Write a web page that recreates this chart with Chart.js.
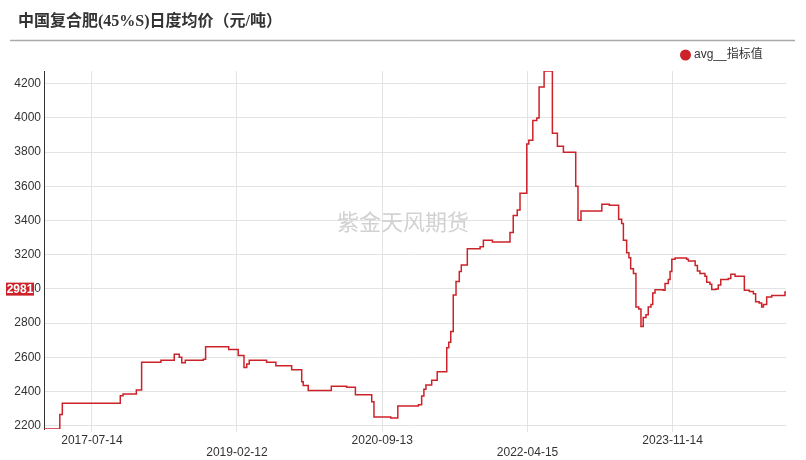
<!DOCTYPE html>
<html><head><meta charset="utf-8">
<script src="https://cdn.jsdelivr.net/npm/chart.js@4/dist/chart.umd.min.js"></script>
<style>html,body{margin:0;padding:0;background:#fff;}#wrap{position:relative;width:806px;height:460px;}</style>
</head><body><div id="wrap"><canvas id="c" width="806" height="460"></canvas></div>
<script>
const chartTitle = '中国复合肥(45%S)日度均价（元/吨）';
const seriesName = 'avg__指标值';
const watermarkText = '紫金天风期货';
const dates = ['2017-01-04','2017-03-08','2017-03-18','2017-11-04','2017-11-15','2018-01-07','2018-01-28','2018-04-15','2018-06-07','2018-06-27','2018-07-07','2018-07-21','2018-10-01','2018-10-10','2019-01-10','2019-02-17','2019-03-12','2019-03-23','2019-04-02','2019-06-10','2019-07-17','2019-09-18','2019-10-28','2019-11-03','2019-11-23','2020-02-23','2020-04-24','2020-05-29','2020-08-02','2020-08-11','2020-10-17','2020-11-14','2021-02-04','2021-02-17','2021-02-26','2021-03-06','2021-03-29','2021-04-20','2021-05-28','2021-06-05','2021-06-13','2021-06-23','2021-07-04','2021-07-17','2021-07-25','2021-08-18','2021-10-08','2021-10-21','2021-11-26','2022-02-04','2022-02-17','2022-03-05','2022-03-16','2022-04-12','2022-04-20','2022-05-06','2022-05-22','2022-05-31','2022-06-20','2022-07-23','2022-08-12','2022-09-05','2022-10-24','2022-11-02','2022-11-14','2023-02-05','2023-03-07','2023-04-13','2023-04-25','2023-05-02','2023-05-15','2023-05-24','2023-05-31','2023-06-11','2023-06-21','2023-07-02','2023-07-11','2023-07-20','2023-07-31','2023-08-09','2023-08-20','2023-08-27','2023-09-05','2023-10-08','2023-10-15','2023-10-28','2023-11-04','2023-11-11','2023-11-24','2024-01-09','2024-01-16','2024-02-12','2024-02-21','2024-03-02','2024-03-22','2024-03-29','2024-04-11','2024-04-18','2024-05-05','2024-05-14','2024-05-24','2024-06-23','2024-07-03','2024-07-20','2024-08-26','2024-09-15','2024-10-01','2024-10-10','2024-10-24','2024-11-03','2024-11-10','2024-11-23','2024-12-13','2025-02-04','2025-02-08'];
const values = [2180,2265,2330,2375,2385,2408,2570,2582,2618,2600,2567,2582,2588,2662,2645,2610,2540,2560,2582,2570,2550,2527,2457,2435,2405,2430,2425,2380,2339,2250,2245,2315,2322,2373,2412,2437,2466,2515,2656,2687,2750,2964,3043,3101,3140,3235,3246,3285,3275,3330,3430,3461,3560,3848,3870,3985,4000,4182,4275,3910,3835,3800,3600,3402,3455,3495,3490,3408,3382,3284,3212,3182,3118,3090,2894,2882,2780,2833,2849,2894,2908,2976,2995,2992,3031,3055,3102,3173,3180,3173,3163,3137,3104,3090,3074,3039,3027,2996,3000,3022,3055,3061,3086,3074,2992,2984,2972,2924,2918,2894,2908,2953,2961,2981,2981];
const xTickLabels = ['2017-07-14','2019-02-12','2020-09-13','2022-04-15','2023-11-14'];
const yTickValues = [2200,2400,2600,2800,3000,3200,3400,3600,3800,4000,4200];
const xStart = '2017-01-04', xEnd = '2025-02-08';
const yMin = 2180, yMax = 4275;

const day = s => Date.UTC(+s.slice(0,4), +s.slice(5,7)-1, +s.slice(8,10)) / 864e5;
const RED = '#cc2229';
const SANS = '"Liberation Sans", "Noto Sans CJK SC", sans-serif';

const deco = {
  id: 'deco',
  beforeDraw(chart) {
    const c = chart.ctx;
    c.save(); c.fillStyle = '#fff'; c.fillRect(0,0,chart.width,chart.height); c.restore();
  },
  beforeDatasetsDraw(chart) {
    const c = chart.ctx;
    c.save();
    c.font = '22px "Noto Sans CJK SC", sans-serif';
    c.fillStyle = '#d2d2d2';
    c.textAlign = 'center'; c.textBaseline = 'middle';
    c.fillText(watermarkText, 403, 222);
    c.restore();
  },
  afterDraw(chart) {
    const c = chart.ctx;
    c.save();
    c.font = 'bold 16px "Liberation Serif", "Noto Sans CJK SC", serif';
    c.fillStyle = '#333';
    c.textAlign = 'left'; c.textBaseline = 'middle';
    c.fillText(chartTitle, 18, 22);
    c.strokeStyle = '#aaaaaa'; c.lineWidth = 1.5;
    c.beginPath(); c.moveTo(10, 40.5); c.lineTo(795, 40.5); c.stroke();
    c.fillStyle = RED;
    c.beginPath(); c.arc(685.5, 55, 5.5, 0, Math.PI*2); c.fill();
    c.font = '12px ' + SANS;
    c.fillStyle = '#333';
    c.fillText(seriesName, 694, 55);
    const ys = chart.scales.y;
    const last = values[values.length-1];
    const py = ys.getPixelForValue(last) - 3;
    c.fillStyle = RED;
    c.fillRect(6, py - 6.5, 28, 13);
    c.font = 'bold 12px ' + SANS;
    c.fillStyle = '#fff';
    c.textAlign = 'center';
    c.fillText(String(last), 20, py + 0.5);
    c.restore();
  }
};

new Chart(document.getElementById('c'), {
  type: 'line',
  data: {
    datasets: [{
      label: seriesName,
      data: dates.map((d,i) => ({x: day(d), y: values[i]})),
      borderColor: RED,
      backgroundColor: RED,
      borderWidth: 1.5,
      pointRadius: 0,
      stepped: true,
      fill: false
    }]
  },
  options: {
    responsive: false,
    animation: false,
    layout: { padding: { left: 10, right: 20, top: 71, bottom: 0 } },
    plugins: { legend: { display: false }, tooltip: { enabled: false }, title: { display: false } },
    scales: {
      x: {
        type: 'linear',
        min: day(xStart), max: day(xEnd),
        afterBuildTicks: s => { s.ticks = xTickLabels.map(l => ({ value: day(l) })); },
        afterFit: s => { s.height = 31; },
        ticks: {
          autoSkip: false, maxRotation: 0, minRotation: 0,
          callback: (v, i) => (i % 2 ? ['', xTickLabels[i]] : xTickLabels[i]),
          font: { size: 12, family: SANS, lineHeight: 1 },
          color: '#333', padding: 3
        },
        grid: { color: '#e3e3e3', tickLength: 3, drawTicks: true },
        border: { display: false }
      },
      y: {
        min: yMin, max: yMax,
        afterBuildTicks: s => { s.ticks = yTickValues.map(v => ({ value: v })); },
        afterFit: s => { s.width = 34; },
        ticks: { font: { size: 12, family: SANS }, color: '#333', padding: 3, callback: v => String(v) },
        grid: { color: '#e3e3e3', drawTicks: false },
        border: { display: true, color: '#333', width: 1 }
      }
    }
  },
  plugins: [deco]
});
</script></body></html>
